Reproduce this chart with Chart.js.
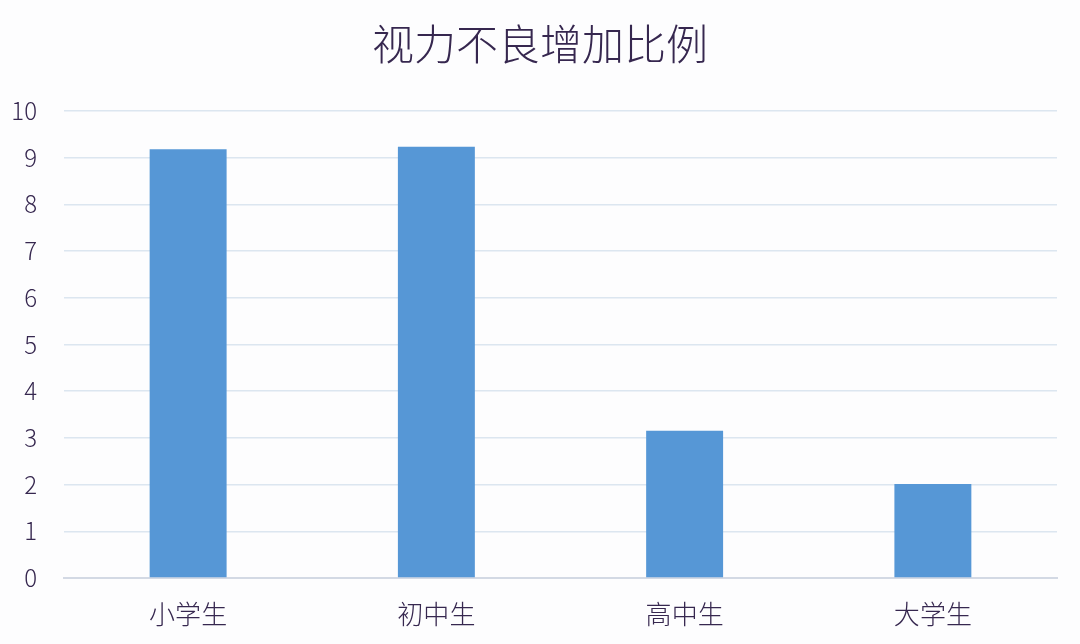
<!DOCTYPE html>
<html lang="zh">
<head>
    <meta charset="UTF-8">
    <title>视力不良增加比例</title>
    <style>
        html, body { margin: 0; background: #fdfdfe; }
        #wrap { position: relative; width: 1080px; height: 644px; }
    </style>
</head>
<body>
    <div id="wrap"><canvas id="chart" width="1080" height="644"></canvas></div>
    <script src="https://cdn.jsdelivr.net/npm/chart.js"></script>
    <script>
        const categories = ['小学生', '初中生', '高中生', '大学生'];
        const values = [9.18, 9.23, 3.15, 2.01];
        const fontFamily = '"Noto Sans CJK SC", "Noto Sans", sans-serif';
        const textColor = '#36274f';

        new Chart(document.getElementById('chart'), {
            type: 'bar',
            data: {
                labels: categories,
                datasets: [{ data: values, backgroundColor: '#5697d6', barPercentage: 0.31, categoryPercentage: 1 }]
            },
            options: {
                responsive: false,
                animation: false,
                layout: { padding: { left: 0, right: 0, top: 19, bottom: 0 } },
                plugins: {
                    legend: { display: false },
                    title: {
                        display: true,
                        text: '视力不良增加比例',
                        color: textColor,
                        font: { family: fontFamily, size: 42, weight: 300 },
                        padding: { top: 0, bottom: 41.5 }
                    }
                },
                scales: {
                    x: {
                        grid: { display: false },
                        border: { color: '#d3d9e4', width: 2 },
                        ticks: { color: textColor, font: { family: fontFamily, size: 26, weight: 300 }, padding: 13 },
                        afterFit: (scale) => { scale.height = 66; }
                    },
                    y: {
                        min: 0,
                        max: 10,
                        grid: { color: '#dce6f0', lineWidth: 1.5, drawTicks: false },
                        border: { display: false },
                        ticks: { stepSize: 1, color: textColor, font: { family: fontFamily, size: 24, weight: 300 }, padding: 27 },
                        afterFit: (scale) => { scale.width = 64; }
                    },
                    // empty axis, only keeps the plot off the right edge so the title stays centred on the page
                    spacer: {
                        position: 'right',
                        grid: { display: false },
                        border: { display: false },
                        ticks: { display: false },
                        afterFit: (scale) => { scale.width = 23; }
                    }
                }
            }
        });
    </script>
</body>
</html>
